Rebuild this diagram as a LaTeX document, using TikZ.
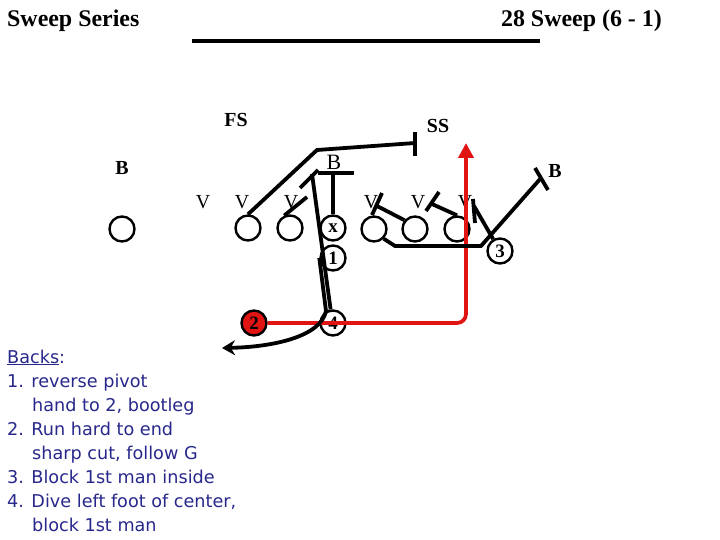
\documentclass[tikz,border=0pt]{standalone}
\usepackage{fontspec}
\setmainfont{Liberation Serif}
\newfontfamily\backsfont{DejaVu Sans}
\usetikzlibrary{arrows.meta}
\definecolor{navy}{RGB}{40,40,140}
\definecolor{playred}{RGB}{225,20,20}
\begin{document}
\begin{tikzpicture}[x=1bp,y=-1bp,
  player/.style={circle,draw=black,line width=2.4bp,minimum size=25bp,inner sep=0pt,
    font=\bfseries\fontsize{19}{19}\selectfont},
  lbl/.style={font=\fontsize{20}{20}\selectfont,inner sep=0pt},
  blbl/.style={font=\bfseries\fontsize{20}{20}\selectfont,inner sep=0pt},
  title/.style={font=\bfseries\fontsize{24}{24}\selectfont,inner sep=0pt},
  route/.style={line width=3.8bp,black},
  redroute/.style={line width=3.8bp,playred},
  backs/.style={font=\backsfont\fontsize{17.7}{24}\selectfont,text=navy,inner sep=0pt,anchor=base west}
]
\useasboundingbox (0,0) rectangle (720,540);
\fill[white] (0,0) rectangle (720,540);

% titles
\node[title,anchor=base west] (t1) at (7,27) {Sweep Series};
\node[title,anchor=base east] (t2) at (662,27) {28 Sweep (6 - 1)};
\coordinate (la) at (192,41);
\coordinate (lb) at (540,41);
\draw[line width=4.5bp] (la) -- (lb);

% defense labels
\node[blbl] (fs) at (236,120) {FS};
\node[blbl] (ss) at (438,126) {SS};
\node[blbl] (bl) at (122,168) {B};
\node[lbl,font=\fontsize{22}{22}\selectfont] (bc) at (334,162) {B};
\node[blbl] (br) at (555,171) {B};
\foreach \x/\n in {203/v1,242/v2,291/v3,371/v4,418/v5,465/v6}
  \node[lbl] (\n) at (\x,202) {V};

% offense
\node[player] (L) at (122,229) {};
\node[player] (c1) at (248,228) {};
\node[player] (c2) at (290,228) {};
\node[player] (cx) at (333,228) {\raisebox{-3bp}{x}};
\node[player] (c4) at (374,229) {};
\node[player] (c5) at (415,229) {};
\node[player] (c6) at (457,229) {};
\node[player] (b3) at (500,251) {3};
\node[player] (b1) at (333,258) {1};
\node[player,fill=playred] (b2) at (254,323) {2};
\node[player] (b4) at (333,323) {4};

% red sweep route
\coordinate (rc) at (466,323);
\coordinate (rt) at (466,143);
\draw[redroute,rounded corners=9bp,-{Triangle[length=15bp,width=15bp]}] (b2.east) -- (rc) -- (rt);

% c1 block to T
\coordinate (k1) at (317,150);
\coordinate (k2) at (415,143);
\coordinate (k2a) at (415,132);
\coordinate (k2b) at (415,156);
\draw[route] (c1.north) -- (k1) -- (k2);
\draw[route] (k2a) -- (k2b);

% c2 short block
\coordinate (k3) at (307,197);
\draw[route] (c2.115) -- (k3);

% center T
\coordinate (k4) at (333,173);
\coordinate (k4a) at (318,173);
\coordinate (k4b) at (354,173);
\draw[route] (cx.north) -- (k4);
\draw[route] (k4a) -- (k4b);

% back 4 dive
\coordinate (k5) at (312,174);
\coordinate (k5a) at (300,188);
\coordinate (k5b) at (318,170);
\draw[route] (b4.100) -- (k5);
\draw[route] (k5a) -- (k5b);

% QB reverse pivot & bootleg
\coordinate (q1) at (326,311);
\coordinate (q2) at (222,348);
\draw[route,-{Stealth[length=13bp,width=15bp]}] (b1.west) -- (q1) .. controls (321,336) and (275,347) .. (q2);

% c5 block
\coordinate (k6) at (377,206);
\coordinate (k6a) at (382,193);
\coordinate (k6b) at (372,215);
\draw[route] (c5.140) -- (k6);
\draw[route] (k6a) -- (k6b);

% c6 block
\coordinate (k7) at (432,204);
\coordinate (k7a) at (439,192);
\coordinate (k7b) at (426,211);
\draw[route] (c6.north) -- (k7);
\draw[route] (k7a) -- (k7b);

% back 3 block
\coordinate (k8) at (474,206);
\coordinate (k8a) at (473,199);
\coordinate (k8b) at (475,223);
\draw[route] (b3.120) -- (k8);
\draw[route] (k8a) -- (k8b);

% c4 pull
\coordinate (p1) at (395,246);
\coordinate (p2) at (481,246);
\coordinate (p3) at (541,178);
\coordinate (p3a) at (535,168);
\coordinate (p3b) at (548,190);
\draw[route] (c4.-45) -- (p1) -- (p2) -- (p3);
\draw[route] (p3a) -- (p3b);

% backs text
\node[backs] (x1) at (7,363) {\underline{Backs}:};
\node[backs] (x2) at (7,387) {1. reverse pivot};
\node[backs] (x3) at (32,411) {hand to 2, bootleg};
\node[backs] (x4) at (7,435) {2. Run hard to end};
\node[backs] (x5) at (32,459) {sharp cut, follow G};
\node[backs] (x6) at (7,483) {3. Block 1st man inside};
\node[backs] (x7) at (7,507) {4. Dive left foot of center,};
\node[backs] (x8) at (32,531) {block 1st man};
\end{tikzpicture}
\end{document}
